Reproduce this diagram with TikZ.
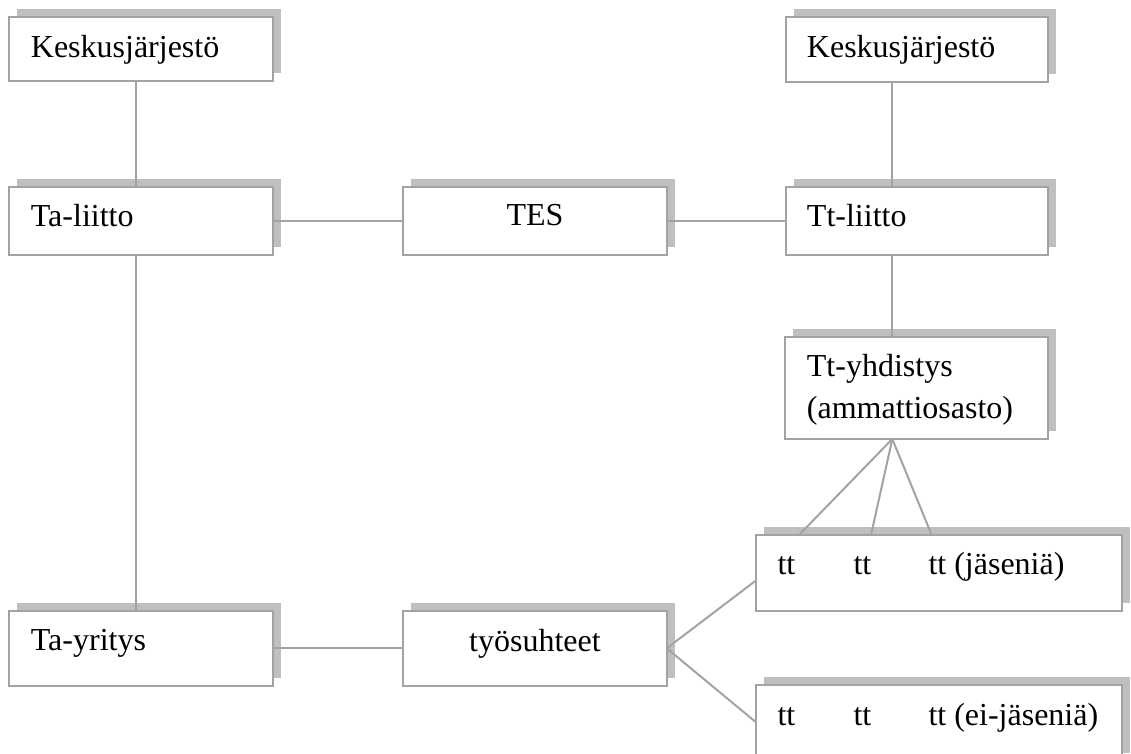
\documentclass[tikz,border=0pt]{standalone}
\usepackage{fontspec}
\setmainfont{Liberation Serif}
\usetikzlibrary{calc,shadows}
\definecolor{linec}{HTML}{A3A3A3}
\definecolor{shadowc}{HTML}{BFBFBF}
\begin{document}
\begin{tikzpicture}[x=1pt,y=-1pt,
  box/.style={draw=linec, line width=2pt, fill=white, inner sep=0pt, outer sep=0pt,
    general shadow={fill=shadowc, shadow xshift=8pt, shadow yshift=8pt}},
  lbl/.style={inner sep=0pt, anchor=base west, font=\fontsize{32}{41.7}\selectfont},
  clbl/.style={inner sep=0pt, anchor=base, font=\fontsize{32}{41.7}\selectfont},
  conn/.style={draw=linec, line width=2pt}]
\useasboundingbox (0,0) rectangle (1131,753);
% boxes
\node[box, minimum width=263.4pt, minimum height=64pt] (k1) at (141,49) {};
\node[box, minimum width=262.3pt, minimum height=65pt] (k2) at (917.2,49.5) {};
\node[box, minimum width=263.4pt, minimum height=67.7pt] (tal) at (141,221.2) {};
\node[box, minimum width=263.4pt, minimum height=67.7pt] (tes) at (535,221.2) {};
\node[box, minimum width=262.3pt, minimum height=67.7pt] (ttl) at (917.2,221.2) {};
\node[box, minimum width=263pt, minimum height=102.3pt] (tty) at (916.5,387.8) {};
\node[box, minimum width=263.4pt, minimum height=75pt] (tay) at (141,648.3) {};
\node[box, minimum width=263.4pt, minimum height=75pt] (tyo) at (535,648.3) {};
\node[box, minimum width=366.6pt, minimum height=76pt] (tt1) at (939,573) {};
\node[box, minimum width=366.6pt, minimum height=76pt] (tt2) at (939,723) {};
% texts
\node[lbl] (k1t) at ($(k1.north west)+(21.4,40.3)$) {Keskusjärjestö};
\node[lbl] (k2t) at ($(k2.north west)+(20.7,40)$) {Keskusjärjestö};
\node[lbl] (talt) at ($(tal.north west)+(21.4,39.4)$) {Ta-liitto};
\node[clbl] (test) at (535,225) {TES};
\node[lbl] (ttlt) at ($(ttl.north west)+(20.7,39.4)$) {Tt-liitto};
\node[lbl] (ttyt1) at ($(tty.north west)+(21.7,40)$) {Tt-yhdistys};
\node[lbl] (ttyt2) at ($(tty.north west)+(21.7,81.6)$) {(ammattiosasto)};
\node[lbl] (tayt) at ($(tay.north west)+(21.4,39.3)$) {Ta-yritys};
\node[clbl] (tyot) at (535,651) {työsuhteet};
\node[lbl] (a1) at (777.3,574.3) {tt};
\node[lbl] (a2) at (853.3,574.3) {tt};
\node[lbl] (a3) at (928.3,574.3) {tt (jäseniä)};
\node[lbl] (b1) at (777.3,725) {tt};
\node[lbl] (b2) at (853.3,725) {tt};
\node[lbl] (b3) at (928.3,725) {tt (ei-jäseniä)};
% connectors
\coordinate (xl) at (136,0);
\coordinate (xr) at (892.3,0);
\draw[conn] (k1.south -| xl) -- (tal.north -| xl);
\draw[conn] (tal.south -| xl) -- (tay.north -| xl);
\draw[conn] (k2.south -| xr) -- (ttl.north -| xr);
\draw[conn] (ttl.south -| xr) -- (tty.north -| xr);
\draw[conn] (tal.east) -- (tes.west);
\draw[conn] (tes.east) -- (ttl.west);
\draw[conn] (tay.east) -- (tyo.west);
\coordinate (fan) at (tty.south -| xr);
\draw[conn] (fan) -- ($(tt1.north west)+(43.3,0)$);
\draw[conn] (fan) -- ($(tt1.north west)+(115.3,0)$);
\draw[conn] (fan) -- ($(tt1.north west)+(176,0)$);
\draw[conn] (tyo.east) -- ($(tt1.north west)+(0,45.7)$);
\draw[conn] (tyo.east) -- ($(tt2.north west)+(0,37)$);
\end{tikzpicture}
\end{document}
